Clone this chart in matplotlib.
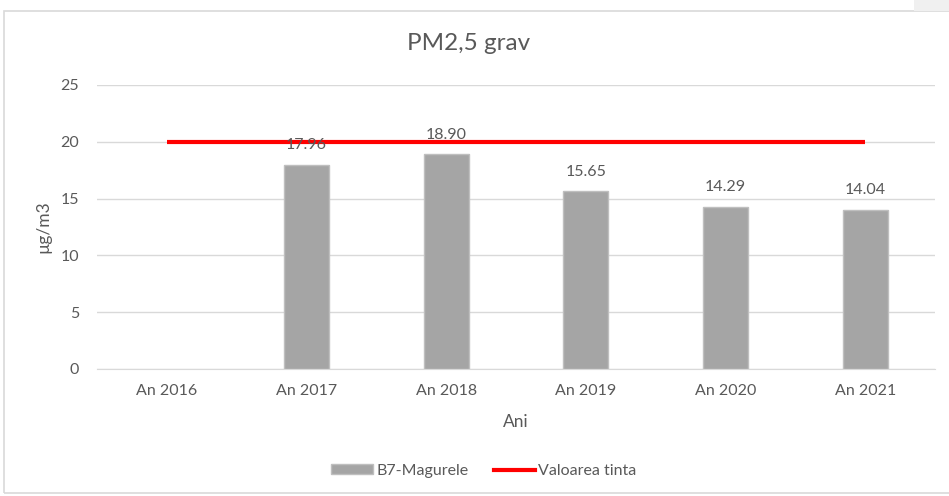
import numpy as np
import matplotlib
matplotlib.use('Agg')
import matplotlib.pyplot as plt
from matplotlib.patches import Rectangle
from matplotlib.lines import Line2D

plt.rcParams['font.family'] = ['Lato', 'DejaVu Sans']

years = ['An 2016', 'An 2017', 'An 2018', 'An 2019', 'An 2020', 'An 2021']
values = [np.nan, 17.96, 18.90, 15.65, 14.29, 14.04]
target = [20, 20, 20, 20, 20, 20]

txt = '#595959'

fig = plt.figure(figsize=(9.49, 4.96), dpi=100)
# chart frame and top-right gray block
fig.patches.append(Rectangle((4 / 949, 3 / 496), 950 / 949, 482 / 496, transform=fig.transFigure,
                             fill=False, edgecolor='#d9d9d9', lw=1.2))
fig.patches.append(Rectangle((914 / 949, 485 / 496), 35 / 949, 11 / 496, transform=fig.transFigure,
                             facecolor='#f0f0f0', edgecolor='none'))

ax = fig.add_axes([97 / 949, 127 / 496, 838 / 949, 284 / 496])
x = np.arange(len(years))
bars = ax.bar(x, values, width=0.32, color='#a5a5a5', edgecolor='#bfbfbf', lw=1, zorder=2)
ax.plot(x, target, color='#ff0000', lw=3, zorder=3, solid_capstyle='butt')

for xi, v in zip(x, values):
    if not np.isnan(v):
        ax.annotate(f'{v:.2f}', (xi, v), xytext=(0, 9), textcoords='offset points',
                    ha='center', va='bottom', fontsize=11.5, color=txt, zorder=4)

ax.set_xlim(-0.5, len(years) - 0.5)
ax.set_ylim(0, 25)
ax.set_yticks([0, 5, 10, 15, 20, 25])
ax.set_xticks(x)
ax.set_xticklabels(years)
ax.grid(axis='y', color='#d9d9d9', lw=1, zorder=0)
ax.tick_params(axis='both', length=0, labelsize=11.5, colors=txt)
ax.tick_params(axis='x', pad=11)
ax.tick_params(axis='y', pad=13)
for s in ['top', 'right', 'left']:
    ax.spines[s].set_visible(False)
ax.spines['bottom'].set_color('#d9d9d9')

ax.set_xlabel('Ani', fontsize=12.5, color=txt, labelpad=11)
ax.set_ylabel('µg/m3', fontsize=12.5, color=txt, labelpad=6)
fig.text(469 / 949, 452 / 496, 'PM2,5 grav', fontsize=17.5, color=txt, ha='center', va='center')

handles = [Rectangle((0, 0), 1, 1, facecolor='#a5a5a5', edgecolor='#bfbfbf'),
           Line2D([0], [0], color='#ff0000', lw=3)]
fig.legend(handles, ['B7-Magurele', 'Valoarea tinta'], loc='center', bbox_to_anchor=(484 / 949, 25 / 496),
           ncol=2, frameon=False, fontsize=11.5, labelcolor=txt, handlelength=2.6, handleheight=0.6,
           handletextpad=0.2, columnspacing=1.6)

fig.savefig('out.png', dpi=100)
